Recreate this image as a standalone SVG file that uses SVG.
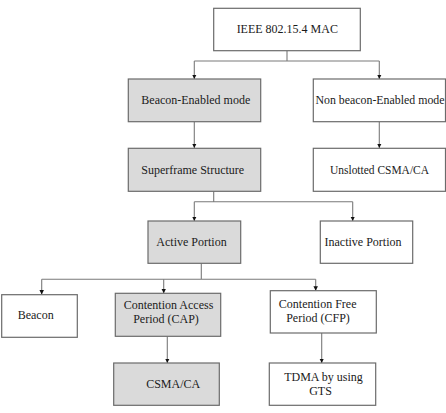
<svg xmlns="http://www.w3.org/2000/svg" width="446" height="413" viewBox="0 0 446 413">
<style>
.box{fill:#ffffff;stroke:#6b6b6b;stroke-width:1.2}
.gray{fill:#dadada}
.t{font-family:"Liberation Serif","Times New Roman",serif;font-size:12px;fill:#1a1a1a;text-anchor:middle}
.ln{fill:none;stroke:#7a7a7a;stroke-width:1.1}
</style>
<defs>
<marker id="arr" viewBox="0 0 8 8" refX="8" refY="4" markerWidth="4.5" markerHeight="4.5" markerUnits="userSpaceOnUse" orient="auto">
<path d="M0,0 L8,4 L0,8 Z" fill="#111"/>
</marker>
</defs>
<rect width="446" height="413" fill="#ffffff"/>
<g id="connectors">
<path class="ln" d="M287,50.7 V61 M194.3,61 H379.3"/>
<path class="ln" d="M194.3,61 V79" marker-end="url(#arr)"/>
<path class="ln" d="M379.3,61 V79" marker-end="url(#arr)"/>
<path class="ln" d="M194.3,121.7 V148" marker-end="url(#arr)"/>
<path class="ln" d="M379.3,121.7 V148" marker-end="url(#arr)"/>
<path class="ln" d="M213.7,191.3 V201.7 M194.3,201.7 H352.7"/>
<path class="ln" d="M194.3,201.7 V221" marker-end="url(#arr)"/>
<path class="ln" d="M352.7,201.7 V221" marker-end="url(#arr)"/>
<path class="ln" d="M201.3,263.3 V279.3 M41.7,279.3 H315.7"/>
<path class="ln" d="M41.7,279.3 V294.5" marker-end="url(#arr)"/>
<path class="ln" d="M163.7,279.3 V293.3" marker-end="url(#arr)"/>
<path class="ln" d="M315.7,279.3 V290.7" marker-end="url(#arr)"/>
<path class="ln" d="M167.3,336.3 V363" marker-end="url(#arr)"/>
<path class="ln" d="M321.7,333 V363" marker-end="url(#arr)"/>
</g>
<g id="n_mac">
<rect class="box" x="213.7" y="8.3" width="146.6" height="42.4"/>
<text class="t" x="287.3" y="33">IEEE 802.15.4 MAC</text>
</g>
<g id="n_beacon_mode">
<rect class="box gray" x="128.3" y="79" width="132.4" height="42.7"/>
<text class="t" x="195.8" y="103.5">Beacon-Enabled mode</text>
</g>
<g id="n_nonbeacon_mode">
<rect class="box" x="313.3" y="79" width="132.2" height="42.7"/>
<text class="t" x="380" y="103.5" textLength="129" lengthAdjust="spacingAndGlyphs">Non beacon-Enabled mode</text>
</g>
<g id="n_superframe">
<rect class="box gray" x="128.3" y="148.3" width="132.4" height="43"/>
<text class="t" x="192.7" y="173.5">Superframe Structure</text>
</g>
<g id="n_unslotted">
<rect class="box" x="313.3" y="148.3" width="132.2" height="43"/>
<text class="t" x="379.5" y="173.5" textLength="99" lengthAdjust="spacingAndGlyphs">Unslotted CSMA/CA</text>
</g>
<g id="n_active">
<rect class="box gray" x="148" y="221" width="92.7" height="42.3"/>
<text class="t" x="191.5" y="245.5">Active Portion</text>
</g>
<g id="n_inactive">
<rect class="box" x="320.3" y="221" width="92.4" height="42.3"/>
<text class="t" x="363" y="245.5">Inactive Portion</text>
</g>
<g id="n_beacon">
<rect class="box" x="1.7" y="294.7" width="75.6" height="42.6"/>
<text class="t" x="35.7" y="319">Beacon</text>
</g>
<g id="n_cap">
<rect class="box gray" x="115.3" y="293.3" width="105.4" height="43"/>
<text class="t" x="168.5" y="308.5">Contention Access</text>
<text class="t" x="166" y="323">Period (CAP)</text>
</g>
<g id="n_cfp">
<rect class="box" x="270.3" y="290.7" width="106" height="42.3"/>
<text class="t" x="317.7" y="308.3">Contention Free</text>
<text class="t" x="318" y="322.3">Period (CFP)</text>
</g>
<g id="n_csmaca">
<rect class="box gray" x="113.7" y="363" width="105.6" height="42.3"/>
<text class="t" x="173.2" y="388">CSMA/CA</text>
</g>
<g id="n_tdma">
<rect class="box" x="269.3" y="363" width="106.4" height="42.3"/>
<text class="t" x="323.5" y="381">TDMA by using</text>
<text class="t" x="320.5" y="394.5">GTS</text>
</g>
</svg>
